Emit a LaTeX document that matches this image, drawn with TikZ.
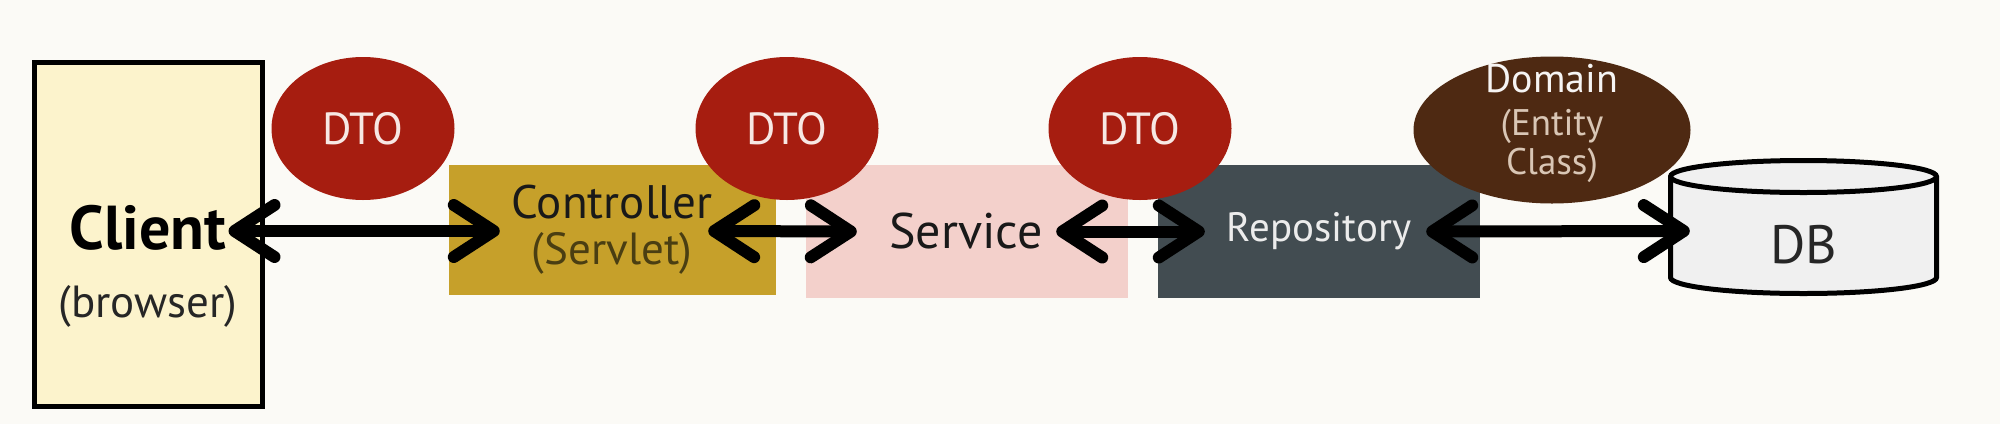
\documentclass[tikz,border=0pt]{standalone}
\usepackage{fontspec}
\setmainfont{PT Sans}
\usetikzlibrary{arrows.meta,shapes.geometric,positioning}

\definecolor{paper}{HTML}{FBFAF6}
\definecolor{clientfill}{HTML}{FCF3CC}
\definecolor{dtored}{HTML}{A61D10}
\definecolor{dtotext}{HTML}{F7E8E4}
\definecolor{ctrlfill}{HTML}{C6A02A}
\definecolor{servlettext}{HTML}{4A3E12}
\definecolor{servfill}{HTML}{F3D0CB}
\definecolor{repofill}{HTML}{424C51}
\definecolor{repotext}{HTML}{ECECEC}
\definecolor{domainfill}{HTML}{4E2912}
\definecolor{entitytext}{HTML}{D9C6B5}
\definecolor{dbfill}{HTML}{F0F0F0}

\newcommand{\fs}[1]{\fontsize{#1}{#1}\selectfont}

\begin{document}
\begin{tikzpicture}[x=1pt, y=-1pt, >={Straight Barb[length=40pt,width=52pt,round]},
    layer/.style={rectangle, inner sep=0pt, minimum width=322pt, minimum height=133pt},
    blob/.style={ellipse, inner sep=0pt, minimum width=183pt, minimum height=143pt, fill=dtored, text=dtotext, font=\fs{45}},
    word/.style={inner sep=0pt},
    drum/.style={draw=black, line width=5pt, fill=dbfill},
    link/.style={<->, line width=12pt, black}]
    \fill[paper] (0,0) rectangle (2000,424);

    % layers
    \node[layer, draw, line width=5pt, fill=clientfill, minimum width=228pt, minimum height=344pt] (client) at (148,234) {};
    \node[layer, fill=ctrlfill, minimum width=327pt, minimum height=130pt] (ctrl) at (612.5,230) {};
    \node[layer, fill=servfill] (service) at (967,231.5) {};
    \node[layer, fill=repofill] (repo) at (1319,231.5) {};
    \node[layer, minimum width=271pt, minimum height=138pt] (db) at (1803.5,227) {};

    % the database drum
    \path[drum] (1670.5,176.5) -- (1670.5,277.5) arc[start angle=180, end angle=360, x radius=133pt, y radius=16pt]
        -- (1936.5,176.5) arc[start angle=0, end angle=180, x radius=133pt, y radius=16pt] -- cycle;
    \draw[drum, fill=none] (1670.5,176.5) arc[start angle=180, end angle=360, x radius=133pt, y radius=16pt];

    % texts
    \node[word, font=\bfseries\fs{62}] (clienttxt) at (148,228) {Client};
    \node[word, font=\fs{45}, text=black!85] (browsertxt) at (148,306) {(browser)};
    \node[word, font=\fs{47}, text=black!90] (ctrltxt) at (612,202) {Controller};
    \node[word, font=\fs{45}, text=servlettext] (servlettxt) at (612,253) {(Servlet)};
    \node[word, font=\fs{50}, text=black!90] (servtxt) at (966,231) {Service};
    \node[word, font=\fs{41}, text=repotext] (repotxt) at (1319,231) {Repository};
    \node[word, font=\fs{54}, text=black!85] (dbtxt) at (1804,245) {DB};

    % objects passed between layers
    \node[blob] (dto1) at (363,128.5) {DTO};
    \node[blob] (dto2) at (787,128.5) {DTO};
    \node[blob] (dto3) at (1140,128.5) {DTO};
    \node[blob, fill=domainfill, minimum width=277pt, minimum height=147pt] (domain) at (1552,130) {};
    \node[word, font=\fs{40}, text=white!95!domainfill] (domaintxt) at (1552,79) {Domain};
    \node[word, font=\fs{37}, text=entitytext, align=center] (entitytxt) at (1552,146) {(Entity\\[2pt]Class)};

    % links
    \draw[link] ([xshift=-36pt,yshift=3pt]client.east) -- ([xshift=51pt,yshift=-1pt]ctrl.west);
    \draw[link] ([xshift=-68pt,yshift=-1pt]ctrl.east) -- ([xshift=51pt]service.west);
    \draw[link] ([xshift=-72pt]service.east) -- ([xshift=47pt]repo.west);
    \draw[link] ([xshift=-54pt]repo.east) -- ([xshift=22pt,yshift=-4pt]db.west);
\end{tikzpicture}
\end{document}
